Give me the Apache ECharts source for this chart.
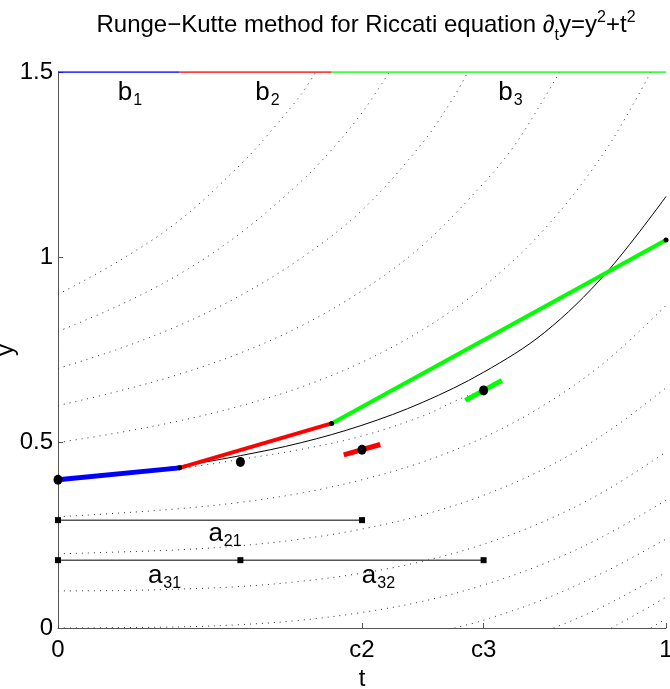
<!DOCTYPE html>
<html>
<head>
<meta charset="utf-8">
<script src="https://cdn.jsdelivr.net/npm/echarts@6/dist/echarts.min.js"></script>
<style>html,body{margin:0;padding:0;background:#fff}#c{width:670px;height:689px}</style>
</head>
<body>
<div id="c"></div>
<script>
// ---------- data ----------
const xTickValues = [0, 0.5, 0.7, 1];
const xTickLabels = ['0', 'c2', 'c3', '1'];

// dotted solution curves of y' = y^2 + t^2 (t, y)
const solM04 = [[0.975, 0], [0.99, 0.015], [1, 0.024]];
const solM03 = [[0.91, 0], [0.95, 0.036], [1, 0.083]];
const solM02 = [[0.815, 0], [0.85, 0.023], [0.9, 0.061], [0.95, 0.104], [1, 0.15]];
const solM01 = [[0.652, 0], [0.7, 0.021], [0.8, 0.078], [0.9, 0.152], [1, 0.24]];
const sol00 = [[0, 0], [0.2, 0.003], [0.3, 0.009], [0.4, 0.021], [0.5, 0.042], [0.6, 0.072], [0.7, 0.116], [0.8, 0.174], [0.9, 0.25], [1, 0.345]];
const sol01 = [[0, 0.1], [0.1, 0.101], [0.2, 0.105], [0.3, 0.112], [0.4, 0.126], [0.5, 0.148], [0.6, 0.18], [0.7, 0.226], [0.8, 0.288], [0.9, 0.37], [1, 0.475]];
const sol02 = [[0, 0.2], [0.1, 0.205], [0.2, 0.211], [0.3, 0.222], [0.4, 0.24], [0.5, 0.267], [0.6, 0.305], [0.7, 0.358], [0.8, 0.43], [0.9, 0.525], [1, 0.648]];
const sol03 = [[0, 0.3], [0.1, 0.31], [0.2, 0.322], [0.3, 0.339], [0.4, 0.364], [0.5, 0.4], [0.6, 0.448], [0.7, 0.514], [0.8, 0.602], [0.9, 0.718], [1, 0.87]];
const sol04 = [[0, 0.4], [0.1, 0.414], [0.2, 0.43], [0.3, 0.455], [0.4, 0.482], [0.5, 0.518], [0.6, 0.572], [0.661, 0.618], [0.7, 0.642]];
const sol05 = [[0, 0.5], [0.1, 0.527], [0.2, 0.559], [0.3, 0.599], [0.4, 0.65], [0.5, 0.717], [0.6, 0.805], [0.7, 0.921], [0.8, 1.076], [0.9, 1.287], [0.975, 1.5]];
const sol06 = [[0, 0.6], [0.1, 0.639], [0.2, 0.685], [0.3, 0.742], [0.4, 0.815], [0.5, 0.91], [0.6, 1.033], [0.7, 1.2], [0.75, 1.3], [0.8, 1.43], [0.825, 1.5]];
const sol07 = [[0, 0.7], [0.1, 0.753], [0.2, 0.817], [0.3, 0.897], [0.4, 0.998], [0.5, 1.127], [0.6, 1.31], [0.65, 1.43], [0.674, 1.5]];
const sol08 = [[0, 0.8], [0.1, 0.87], [0.2, 0.955], [0.3, 1.065], [0.4, 1.205], [0.45, 1.29], [0.5, 1.39], [0.545, 1.5]];
const sol09 = [[0, 0.9], [0.1, 0.99], [0.2, 1.1], [0.3, 1.25], [0.35, 1.34], [0.4, 1.44], [0.424, 1.5]];

// exact solution (solid black)
const exactSol = [[0, 0.4], [0.1, 0.417], [0.2, 0.437], [0.3, 0.465], [0.4, 0.5], [0.5, 0.547], [0.6, 0.609], [0.7, 0.69], [0.8, 0.797], [0.9, 0.955], [1, 1.164]];

// Runge-Kutta steps
const stepB1 = [[0, 0.4], [0.2, 0.432]];
const stepB2 = [[0.2, 0.432], [0.45, 0.552]];
const stepB3 = [[0.45, 0.552], [1, 1.047]];
const stepNodes = [[0.2, 0.432], [0.45, 0.552], [1, 1.047]];
const stagePoints = [[0, 0.4], [0.3, 0.448], [0.5, 0.481], [0.7, 0.641]];
const slopeK2 = [[0.47, 0.467], [0.53, 0.495]];
const slopeK3 = [[0.67, 0.614], [0.73, 0.668]];

// weights bar on top (b1, b2, b3)
const barB1 = [[0, 1.5], [0.2, 1.5]];
const barB2 = [[0.2, 1.5], [0.45, 1.5]];
const barB3 = [[0.45, 1.5], [1, 1.5]];

// coefficient bars
const barA21 = [[0, 0.291], [0.5, 0.291]];
const barA3 = [[0, 0.183], [0.3, 0.183], [0.7, 0.183]];

// annotation texts
const annoNames = ['b', 'b', 'b', 'a', 'a', 'a'];
const annoSubs = ['1', '2', '3', '21', '31', '32'];

// ---------- chart ----------
const FONT = '"Liberation Sans", Arial, Helvetica, sans-serif';
const annoPos = [[0.1184, 1.435], [0.3446, 1.435], [0.7442, 1.435], [0.2747, 0.2455], [0.1752, 0.132], [0.527, 0.132]];

function lineSeries(data, color, width, type, z) {
  return {
    type: 'line', data: data, showSymbol: false, silent: true, z: z,
    lineStyle: { color: color, width: width, type: type || 'solid', opacity: 1 },
    animation: false
  };
}

const dottedCurves = [solM04, solM03, solM02, solM01, sol00, sol01, sol02, sol03, sol04, sol05, sol06, sol07, sol08, sol09];
const series = [];
dottedCurves.forEach(function (c) {
  const s = lineSeries(c, '#333', 1, [1, 5], 1);
  s.smooth = 0.35;
  series.push(s);
});
const ex = lineSeries(exactSol, '#000', 1, 'solid', 2);
ex.smooth = 0.35;
series.push(ex);

// coefficient bars with square markers
[barA21, barA3].forEach(function (d) {
  series.push({
    type: 'line', data: d, silent: true, z: 3, animation: false,
    symbol: 'rect', symbolSize: 6, showSymbol: true,
    itemStyle: { color: '#000', opacity: 1 },
    lineStyle: { color: '#555', width: 1.5 }
  });
});

// weights bar on top
series.push(lineSeries(barB1, '#0000ff', 1.5, 'solid', 3));
series.push(lineSeries(barB2, '#ff0000', 1.5, 'solid', 3));
series.push(lineSeries(barB3, '#00ff00', 1.5, 'solid', 3));

// RK steps
series.push(lineSeries(stepB1, '#0000ff', 5, 'solid', 4));
series.push(lineSeries(stepB2, '#ff0000', 4, 'solid', 4));
series.push(lineSeries(stepB3, '#00ff00', 4, 'solid', 4));
series.push(lineSeries(slopeK2, '#ff0000', 5, 'solid', 4));
series.push(lineSeries(slopeK3, '#00ff00', 5, 'solid', 4));

series.push({
  type: 'scatter', data: stepNodes, symbol: 'circle', symbolSize: 5, z: 5, silent: true, animation: false,
  itemStyle: { color: '#000', opacity: 1 }
});
series.push({
  type: 'scatter', data: stagePoints, symbol: 'circle', symbolSize: [9, 10], z: 6, silent: true, animation: false,
  itemStyle: { color: '#000', opacity: 1 }
});

// annotations
series.push({
  type: 'scatter', symbolSize: 0, silent: true, z: 7, animation: false,
  itemStyle: { opacity: 1 },
  data: annoNames.map(function (n, i) {
    return {
      value: annoPos[i],
      label: {
        show: true, position: 'inside',
        formatter: '{m|' + n + '}{s|' + annoSubs[i] + '}',
        rich: {
          m: { fontFamily: FONT, fontSize: 26, lineHeight: 26, color: '#000', verticalAlign: 'bottom', padding: [0, 1, 3, 0] },
          s: { fontFamily: FONT, fontSize: 16, lineHeight: 16, color: '#000', verticalAlign: 'bottom' }
        }
      }
    };
  })
});

const chart = echarts.init(document.getElementById('c'), null, { renderer: 'canvas' });
chart.setOption({
  backgroundColor: '#fff',
  animation: false,
  grid: { left: 58, right: 4, top: 72, bottom: 61, containLabel: false, outerBoundsMode: 'none' },
  xAxis: {
    type: 'value', min: 0, max: 1,
    name: 't', nameLocation: 'middle', nameGap: 37,
    nameTextStyle: { fontFamily: FONT, fontSize: 24, color: '#000' },
    axisLine: { show: true, onZero: false, lineStyle: { color: '#555', width: 1 } },
    axisTick: { show: true, inside: true, length: 5, customValues: [0.5, 0.7, 1], lineStyle: { color: '#555' } },
    axisLabel: {
      show: true, customValues: xTickValues, margin: 10,
      fontFamily: FONT, fontSize: 24, color: '#000',
      formatter: function (v) {
        for (let i = 0; i < xTickValues.length; i++) {
          if (Math.abs(xTickValues[i] - v) < 1e-9) return xTickLabels[i];
        }
        return '';
      }
    },
    splitLine: { show: false }
  },
  yAxis: {
    type: 'value', min: 0, max: 1.5, interval: 0.5,
    axisLine: { show: true, onZero: false, lineStyle: { color: '#555', width: 1 } },
    axisTick: { show: true, inside: true, length: 5, lineStyle: { color: '#555' } },
    axisLabel: { margin: 5, fontFamily: FONT, fontSize: 24, color: '#000' },
    splitLine: { show: false }
  },
  graphic: [{
    type: 'text', silent: true,
    x: 366, y: 20,
    style: {
      x: 0, y: 0,
      text: '{m|Runge−Kutte method for Riccati equation ∂}{sb|t}{m|y=y}{sp|2}{m|+t}{sp|2}',
      align: 'center',
      rich: {
        m: { fontFamily: FONT, fontSize: 24, lineHeight: 24, fill: '#000', verticalAlign: 'bottom', padding: [0, 0, 7, 0] },
        sb: { fontFamily: FONT, fontSize: 16, lineHeight: 16, fill: '#000', verticalAlign: 'bottom' },
        sp: { fontFamily: FONT, fontSize: 16, lineHeight: 16, fill: '#000', verticalAlign: 'bottom', padding: [0, 0, 18, 0] }
      }
    }
  }, {
    type: 'text', silent: true,
    x: 6, y: 350, rotation: Math.PI / 2,
    style: { text: 'y', font: '24px "Liberation Sans", Arial, sans-serif', fill: '#000', align: 'center', verticalAlign: 'middle' }
  }],
  series: series
});
</script>
</body>
</html>
